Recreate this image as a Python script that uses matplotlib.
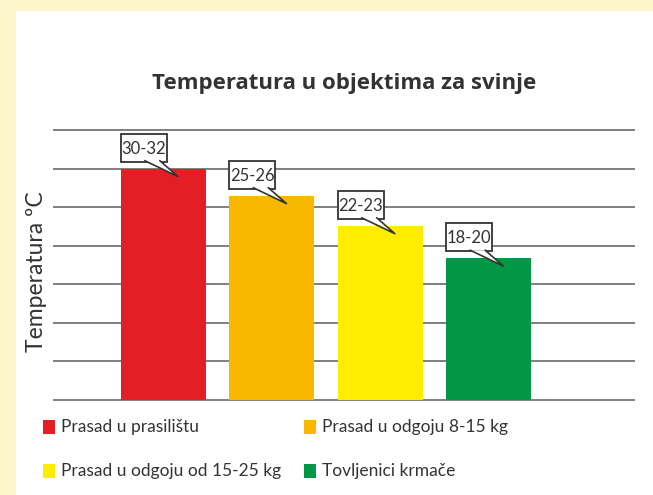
import matplotlib
matplotlib.use('Agg')
import matplotlib.pyplot as plt
from matplotlib.patches import Rectangle, Polygon

# podaci
categories = ['Prasad u prasilištu', 'Prasad u odgoju 8-15 kg',
              'Prasad u odgoju od 15-25 kg', 'Tovljenici krmače']
values = [30.0, 26.5, 22.6, 18.4]
labels = ['30-32', '25-26', '22-23', '18-20']
colors = ['#E31E24', '#F9B700', '#FFED00', '#009846']
grid_ticks = [0, 5, 10, 15, 20, 25, 30, 35]

plt.rcParams['font.family'] = ['Lato', 'DejaVu Sans']

fig = plt.figure(figsize=(6.53, 4.95), dpi=100, facecolor='#FEF6CC')
# bijela podloga
fig.patches.append(Rectangle((16 / 653, 0), 1, 1 - 11 / 495, transform=fig.transFigure,
                             facecolor='white', edgecolor='none', zorder=-10))

ax = fig.add_axes([54 / 653, 1 - 400 / 495, 580 / 653, 270 / 495])
ax.set_facecolor('none')

x = list(range(len(values)))
bar_w = 0.783
bars = ax.bar(x, values, width=bar_w, color=colors, zorder=2)

ax.set_xlim(-1.009, 4.34)
ax.set_ylim(0, 35)
ax.set_yticks(grid_ticks)
ax.yaxis.grid(True, color='#7f7f7f', linewidth=1.4, clip_on=False)
ax.set_axisbelow(True)
ax.tick_params(left=False, bottom=False, labelleft=False, labelbottom=False)
for s in ax.spines.values():
    s.set_visible(False)

# oznake (callout) - u pikselima od gornjeg lijevog kuta stupca
to_fig = fig.transFigure.inverted()
edge = '#333333'
for i, (v, lab) in enumerate(zip(values, labels)):
    bx, by = ax.transData.transform((i - bar_w / 2, v))

    def p(dx, dy):
        return to_fig.transform((bx + dx, by + dy))

    x0, y0 = p(0, 7)
    x1, y1 = p(46, 35)
    fig.patches.append(Rectangle((x0, y0), x1 - x0, y1 - y0, transform=fig.transFigure,
                                 facecolor='white', edgecolor=edge, lw=1.3, zorder=5))
    tri = [p(24, 7.8), p(39, 7.8), p(57, -8)]
    fig.patches.append(Polygon(tri, closed=True, transform=fig.transFigure,
                               facecolor='white', edgecolor='none', zorder=6))
    fig.lines.append(plt.Line2D([tri[0][0], tri[2][0], tri[1][0]],
                                [tri[0][1], tri[2][1], tri[1][1]],
                                transform=fig.transFigure, color=edge, lw=1.2, zorder=7))
    cx, cy = p(23, 20)
    fig.text(cx, cy, lab, ha='center', va='center', fontsize=12, color=edge, zorder=8)

fig.text(344 / 653, 1 - 84 / 495, 'Temperatura u objektima za svinje',
         ha='center', va='center', fontsize=16, fontweight='bold', color='#333333',
         family=['Open Sans', 'DejaVu Sans'])
fig.text(37 / 653, 1 - 272 / 495, 'Temperatura ºC', rotation=90,
         ha='center', va='center', fontsize=16.5, color='#333333')

# legenda
leg_pos = [(43, 427), (304, 427), (43, 471), (304, 471)]
for (px, py), c, name in zip(leg_pos, colors, categories):
    fig.patches.append(Rectangle((px / 653, 1 - (py + 7) / 495), 12 / 653, 14 / 495,
                                 transform=fig.transFigure, facecolor=c, edgecolor='none'))
    fig.text((px + 18) / 653, 1 - py / 495, name, ha='left', va='center',
             fontsize=12.5, color='#333333')

plt.savefig('out.png', dpi=100, facecolor=fig.get_facecolor())
